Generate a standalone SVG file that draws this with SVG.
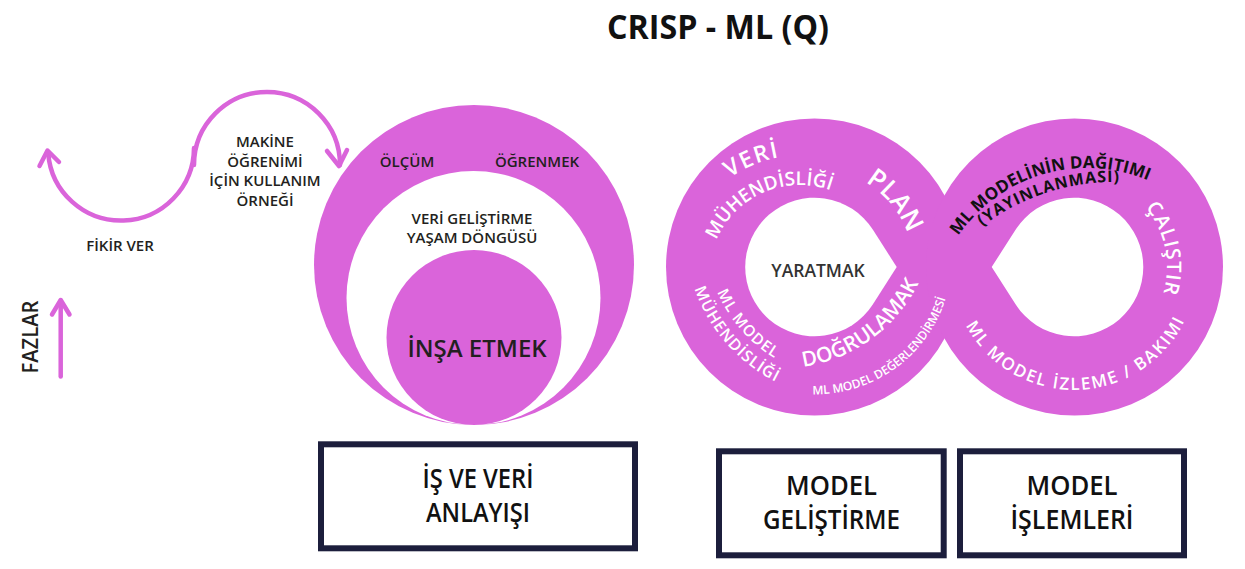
<svg xmlns="http://www.w3.org/2000/svg" width="1245" height="569" viewBox="0 0 1245 569">
<style>
.pk{fill:#DA64DA}
.wh{fill:#FFFFFF}
.ln{fill:none;stroke:#DA64DA;stroke-width:4.5;stroke-linecap:round;stroke-linejoin:round}
.t{font-family:"Open Sans","Noto Sans",sans-serif;font-weight:600;fill:#231F20}
.c{text-anchor:middle}
.w{font-family:"Open Sans","Noto Sans",sans-serif;font-weight:600;fill:#FFFFFF}
.k{font-family:"Open Sans","Noto Sans",sans-serif;font-weight:700;fill:#111111}
.box{fill:#FFFFFF;stroke:#1C1E3C;stroke-width:6}
.bt{font-family:"Open Sans","Noto Sans",sans-serif;font-weight:600;font-size:27px;fill:#111111;text-anchor:middle}
</style>
<defs>
<path id="t120" d="M -118.67 -20.92 A 120.5 120.5 0 0 1 118.67 -20.92"/>
<path id="t91" d="M -89.62 -15.80 A 91 91 0 0 1 89.62 -15.80"/>
<path id="t99" d="M -97.50 -17.19 A 99 99 0 0 1 97.50 -17.19"/>
<path id="t156" d="M -153.63 -27.09 A 156 156 0 0 1 153.63 -27.09"/>
<path id="t218" d="M -214.69 -37.86 A 218 218 0 0 1 214.69 -37.86"/>
<path id="t93" d="M -91.59 -16.14 A 93 93 0 0 1 91.59 -16.14"/>
<path id="b123" d="M -121.13 21.35 A 123 123 0 0 0 121.13 21.35"/>
<path id="b153" d="M -151.17 26.65 A 153.5 153.5 0 0 0 151.17 26.65"/>
<path id="b136" d="M -134.43 23.70 A 136.5 136.5 0 0 0 134.43 23.70"/>
<path id="b144" d="M -142.30 25.09 A 144.5 144.5 0 0 0 142.30 25.09"/>
<path id="b164" d="M -162.00 28.56 A 164.5 164.5 0 0 0 162.00 28.56"/>
</defs>

<text id="title" class="k c" x="718" y="39" font-size="34" textLength="222" lengthAdjust="spacingAndGlyphs">CRISP - ML (Q)</text>

<g id="connectors">
<path class="ln" d="M 48.2 153 A 73 73 0 0 0 194 148 L 194 165 A 73 73 0 0 1 340 165"/>
<path class="ln" d="M 39.5 166 L 47.5 150.5 L 59 162"/>
<path class="ln" d="M 327 151 L 339 166 L 347 150"/>
<path class="ln" d="M 60.7 376.5 L 60.7 301"/>
<path class="ln" d="M 52 314.5 L 60.7 300 L 69.5 314.5"/>
</g>

<g id="phase-labels">
<text class="t c" x="265" y="147" font-size="15">MAKİNE</text>
<text class="t c" x="265" y="166.5" font-size="15">ÖĞRENİMİ</text>
<text class="t c" x="265" y="186" font-size="15">İÇİN KULLANIM</text>
<text class="t c" x="265" y="206" font-size="15">ÖRNEĞİ</text>
<text class="t c" x="120" y="251" font-size="15">FİKİR VER</text>
<text class="t c" transform="translate(38 337) rotate(-90)" font-size="21" textLength="73" lengthAdjust="spacingAndGlyphs">FAZLAR</text>
</g>

<g id="build-circles">
<circle class="pk" cx="474" cy="265" r="160"/>
<circle class="wh" cx="473.5" cy="298" r="127"/>
<circle class="pk" cx="474" cy="337.5" r="87.5"/>
<text class="t c" x="407" y="167" font-size="15">ÖLÇÜM</text>
<text class="t c" x="537" y="167" font-size="15">ÖĞRENMEK</text>
<text class="t c" x="472" y="224" font-size="15">VERİ GELİŞTİRME</text>
<text class="t c" x="472" y="243" font-size="15">YAŞAM DÖNGÜSÜ</text>
<text class="t c" x="477" y="357" font-size="24">İNŞA ETMEK</text>
</g>

<g id="infinity">
<circle class="pk" cx="814.5" cy="267" r="148.5"/>
<circle class="pk" cx="1074.5" cy="267" r="148.5"/>
<path class="wh" d="M 896.7 267 L 872.93 304.27 A 69.3 69.3 0 1 1 872.93 229.73 Z"/>
<path class="wh" d="M 991.7 267 L 1015.57 229.73 A 69.3 69.3 0 1 1 1015.57 304.27 Z"/>
<text class="t c" x="818" y="277" font-size="17.5" style="fill:#333333">YARATMAK</text>

<g transform="translate(800 276) rotate(-22.5)"><text class="w c" font-size="23" font-weight="700" letter-spacing="1.5"><textPath href="#t120" startOffset="50%">VERİ</textPath></text></g>
<g transform="translate(800 276) rotate(-23.5)"><text class="w c" font-size="19"><textPath href="#t91" startOffset="50%">MÜHENDİSLİĞİ</textPath></text></g>
<g transform="translate(814.5 267) rotate(50.5)"><text class="w c" font-size="26" font-weight="700"><textPath href="#t99" startOffset="50%">PLAN</textPath></text></g>
<g transform="translate(850 235) rotate(49)"><text class="w c" font-size="15.5" letter-spacing="1"><textPath href="#b144" startOffset="50%">ML MODEL</textPath></text></g>
<g transform="translate(850 235) rotate(48.8)"><text class="w c" font-size="16" letter-spacing="1"><textPath href="#b164" startOffset="50%">MÜHENDİSLİĞİ</textPath></text></g>
<g transform="translate(781 215) rotate(-36)"><text class="w c" font-size="21" font-weight="700"><textPath href="#b153" startOffset="50%">DOĞRULAMAK</textPath></text></g>
<g transform="translate(815.4 257.8) rotate(-35.7)"><text class="w c" font-size="12"><textPath href="#b136" startOffset="50%">ML MODEL DEĞERLENDİRMESİ</textPath></text></g>

<g transform="translate(1087 324) rotate(-16.3)"><text class="k c" font-size="17"><textPath href="#t156" startOffset="50%">ML MODELİNİN DAĞITIMI</textPath></text></g>
<g transform="translate(1114 400) rotate(-17.8)"><text class="k c" font-size="16" font-weight="600" letter-spacing="1"><textPath href="#t218" startOffset="50%">(YAYINLANMASI)</textPath></text></g>
<g transform="translate(1074 267) rotate(78.5)"><text class="w c" font-size="20" font-weight="700" letter-spacing="1"><textPath href="#t93" startOffset="50%">ÇALIŞTIR</textPath></text></g>
<g transform="translate(1074 267) rotate(-1.5)"><text class="w c" font-size="17" letter-spacing="1.8"><textPath href="#b123" startOffset="50%">ML MODEL İZLEME / BAKIMI</textPath></text></g>
</g>

<g id="box-business">
<rect class="box" x="321" y="444.3" width="314" height="104"/>
<text class="bt" x="478" y="488" textLength="111" lengthAdjust="spacingAndGlyphs">İŞ VE VERİ</text>
<text class="bt" x="478" y="522" textLength="104" lengthAdjust="spacingAndGlyphs">ANLAYIŞI</text>
</g>
<g id="box-model-dev">
<rect class="box" x="719" y="451.3" width="224.7" height="104"/>
<text class="bt" x="831.5" y="495" textLength="91" lengthAdjust="spacingAndGlyphs">MODEL</text>
<text class="bt" x="831.5" y="529" textLength="137" lengthAdjust="spacingAndGlyphs">GELİŞTİRME</text>
</g>
<g id="box-model-ops">
<rect class="box" x="960" y="451.3" width="224" height="104"/>
<text class="bt" x="1072" y="495" textLength="91" lengthAdjust="spacingAndGlyphs">MODEL</text>
<text class="bt" x="1072" y="529" textLength="123" lengthAdjust="spacingAndGlyphs">İŞLEMLERİ</text>
</g>
</svg>
